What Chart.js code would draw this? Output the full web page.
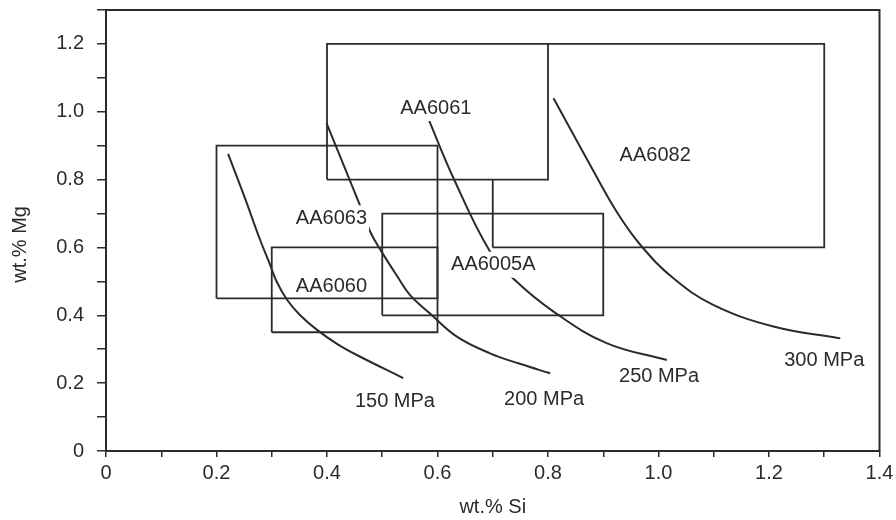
<!DOCTYPE html>
<html>
<head>
<meta charset="utf-8">
<script src="https://cdn.jsdelivr.net/npm/chart.js@4.4.1/dist/chart.umd.min.js"></script>
<style>
  html, body { margin: 0; padding: 0; background: #fff; }
  #wrap { width: 896px; height: 520px; }
</style>
</head>
<body>
<div id="wrap"><canvas id="alloyChart" width="896" height="520"></canvas></div>
<script>
// composition windows of the alloys (wt.%)
const alloys = ["AA6060", "AA6063", "AA6061", "AA6005A", "AA6082"];
const siMin = [0.3, 0.2, 0.4, 0.5, 0.7];
const siMax = [0.6, 0.6, 0.8, 0.9, 1.3];
const mgMin = [0.35, 0.45, 0.8, 0.4, 0.6];
const mgMax = [0.6, 0.9, 1.2, 0.7, 1.2];
// where the alloy names sit (Si, Mg)
const alloyLabelSi = [0.408, 0.408, 0.597, 0.701, 0.994];
const alloyLabelMg = [0.485, 0.686, 1.011, 0.549, 0.871];

// iso-strength curves
const strengths = ["150 MPa", "200 MPa", "250 MPa", "300 MPa"];
const si150 = [0.221, 0.250, 0.279, 0.297, 0.309, 0.328, 0.351, 0.382, 0.418, 0.454, 0.538];
const mg150 = [0.876, 0.752, 0.622, 0.549, 0.499, 0.445, 0.401, 0.357, 0.316, 0.283, 0.215];
const si200 = [0.399, 0.457, 0.478, 0.499, 0.526, 0.550, 0.586, 0.635, 0.695, 0.749, 0.804];
const mg200 = [0.967, 0.735, 0.647, 0.587, 0.518, 0.460, 0.406, 0.337, 0.288, 0.257, 0.229];
const si250 = [0.583, 0.629, 0.695, 0.740, 0.810, 0.906, 1.015];
const mg250 = [0.981, 0.804, 0.588, 0.504, 0.411, 0.318, 0.268];
const si300 = [0.810, 0.876, 0.924, 0.967, 1.027, 1.099, 1.208, 1.329];
const mg300 = [1.040, 0.844, 0.706, 0.608, 0.509, 0.431, 0.367, 0.332];
const strengthLabelSi = [0.523, 0.793, 1.001, 1.300];
const strengthLabelMg = [0.145, 0.152, 0.219, 0.268];

// axis ticks
const xTickValues = [0, 0.2, 0.4, 0.6, 0.8, 1.0, 1.2, 1.4];
const xTickLabels = ["0", "0.2", "0.4", "0.6", "0.8", "1.0", "1.2", "1.4"];
const yTickValues = [0, 0.2, 0.4, 0.6, 0.8, 1.0, 1.2];
const yTickLabels = ["0", "0.2", "0.4", "0.6", "0.8", "1.0", "1.2"];

const INK = "#2b2b2b";
const TEXT = "#2b2b2b";
const FONT = '"Liberation Sans", Arial, Helvetica, sans-serif';

function pickLabel(values, labels) {
  return (v) => {
    const i = values.findIndex((t) => Math.abs(t - v) < 1e-6);
    return i >= 0 ? labels[i] : ""; // minor ticks keep their mark, no text
  };
}

const zip = (xs, ys) => xs.map((x, i) => ({ x, y: ys[i] }));

const datasets = [];

// one closed outline per alloy window.
// AA6082 sits behind AA6061 in the original, so those two get a white fill
// and are drawn first (higher order = further back)
const backOrder = { AA6082: 30, AA6061: 20 };
alloys.forEach((name, i) => {
  const behind = name in backOrder;
  datasets.push({
    label: name,
    data: [
      { x: siMin[i], y: mgMin[i] },
      { x: siMax[i], y: mgMin[i] },
      { x: siMax[i], y: mgMax[i] },
      { x: siMin[i], y: mgMax[i] },
      { x: siMin[i], y: mgMin[i] },
    ],
    showLine: true,
    borderColor: INK,
    borderWidth: 1.8,
    backgroundColor: "#ffffff",
    fill: behind ? "shape" : false,
    order: behind ? backOrder[name] : 10,
    pointRadius: 0,
    tension: 0,
  });
});

[
  [si150, mg150],
  [si200, mg200],
  [si250, mg250],
  [si300, mg300],
].forEach(([xs, ys], i) => {
  datasets.push({
    label: strengths[i],
    data: zip(xs, ys),
    showLine: true,
    borderColor: INK,
    borderWidth: 2,
    pointRadius: 0,
    tension: 0.4,
    fill: false,
    order: 0,
  });
});

// top + right edges of the box
const framePlugin = {
  id: "frame",
  afterDraw(chart) {
    const { ctx, chartArea: a } = chart;
    ctx.save();
    ctx.strokeStyle = INK;
    ctx.lineWidth = 2;
    ctx.beginPath();
    ctx.moveTo(a.left, a.top);
    ctx.lineTo(a.right, a.top);
    ctx.lineTo(a.right, a.bottom);
    ctx.stroke();
    ctx.restore();
  },
};

// names of alloys and strength levels; some of them break the curve underneath
const masked = ["AA6063", "AA6061", "AA6005A"];
const labelPlugin = {
  id: "inlineLabels",
  afterDatasetsDraw(chart) {
    const { ctx, scales } = chart;
    ctx.save();
    ctx.font = "20px " + FONT;
    ctx.textAlign = "center";
    ctx.textBaseline = "middle";
    const put = (txt, sx, sy) => {
      const px = scales.x.getPixelForValue(sx);
      const py = scales.y.getPixelForValue(sy);
      if (masked.includes(txt)) {
        const w = ctx.measureText(txt).width;
        ctx.fillStyle = "#fff";
        ctx.fillRect(px - w / 2 - 2, py - 13, w + 4, 26);
      }
      ctx.fillStyle = TEXT;
      ctx.fillText(txt, px, py);
    };
    alloys.forEach((n, i) => put(n, alloyLabelSi[i], alloyLabelMg[i]));
    strengths.forEach((s, i) => put(s, strengthLabelSi[i], strengthLabelMg[i]));
    ctx.restore();
  },
};

const ctx = document.getElementById("alloyChart");
new Chart(ctx, {
  type: "scatter",
  data: { datasets },
  options: {
    responsive: false,
    animation: false,
    layout: { padding: { top: 10, right: 16.5, left: 0, bottom: 0 } },
    plugins: {
      legend: { display: false },
      tooltip: { enabled: false },
    },
    scales: {
      x: {
        type: "linear",
        min: 0,
        max: 1.4,
        afterFit: (s) => {
          s.height = 69;
          s.paddingLeft = 0;
          s.paddingRight = 0;
        },
        border: { color: INK, width: 2 },
        grid: { drawOnChartArea: false, tickLength: 6, tickColor: INK, lineWidth: 1.5 },
        ticks: {
          stepSize: 0.1,
          autoSkip: false,
          maxRotation: 0,
          padding: 4,
          color: TEXT,
          font: { family: FONT, size: 20 },
          callback: pickLabel(xTickValues, xTickLabels),
        },
        title: {
          display: true,
          text: "wt.% Si",
          color: TEXT,
          font: { family: FONT, size: 20 },
          padding: { top: 4, bottom: 1 },
        },
      },
      y: {
        type: "linear",
        min: 0,
        max: 1.3,
        afterFit: (s) => {
          s.width = 106;
          s.paddingTop = 0;
          s.paddingBottom = 0;
        },
        border: { color: INK, width: 2 },
        grid: { drawOnChartArea: false, tickLength: 9, tickColor: INK, lineWidth: 1.5 },
        ticks: {
          stepSize: 0.1,
          autoSkip: false,
          padding: 13,
          color: TEXT,
          font: { family: FONT, size: 20 },
          callback: pickLabel(yTickValues, yTickLabels),
        },
        title: {
          display: true,
          text: "wt.% Mg     ",
          color: TEXT,
          font: { family: FONT, size: 20 },
          padding: { top: 8, bottom: 4 },
        },
      },
    },
  },
  plugins: [framePlugin, labelPlugin],
});
</script>
</body>
</html>
